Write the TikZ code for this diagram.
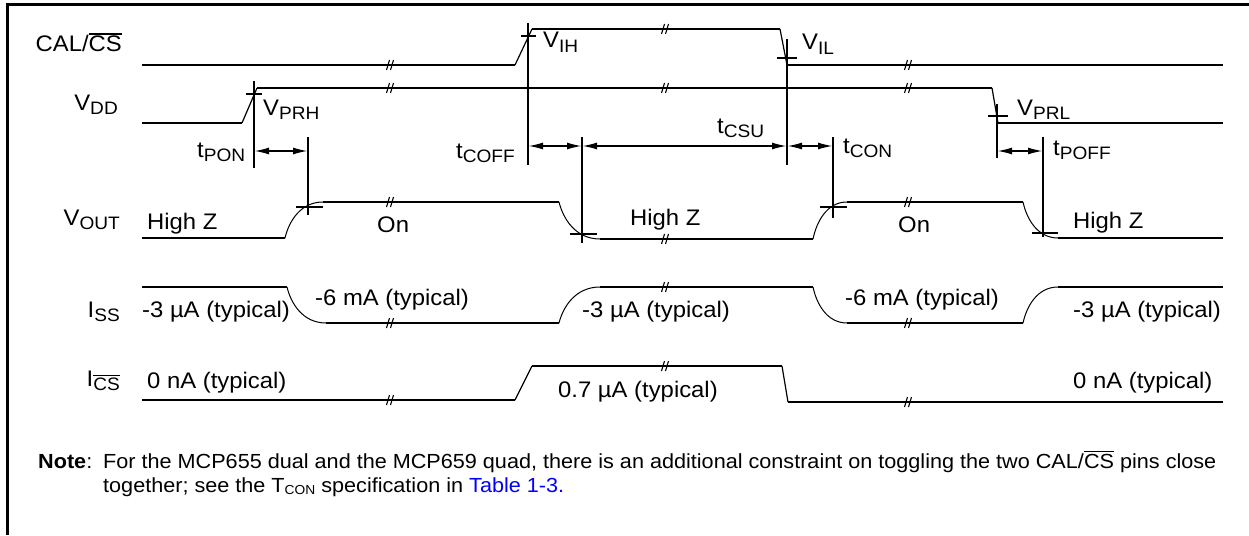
\documentclass[tikz,border=0pt]{standalone}
\usepackage{fontspec}
\setmainfont{Liberation Sans}[FakeStretch=1.06]
\usetikzlibrary{arrows.meta}
\definecolor{linkblue}{RGB}{0,0,255}
\newcommand\lsub[1]{\raisebox{-4.5pt}{\fontsize{18}{18}\selectfont #1}}
\newcommand\myov[1]{\setbox0=\hbox{#1}\rlap{\rule[\dimexpr\ht0+1.6pt\relax]{\wd0}{1.4pt}}\box0\relax}
\newcommand\lblfont{\fontsize{22.5}{26}\selectfont}
\newcommand\notefont{\fontsize{20.4}{24}\selectfont}
\newcommand\sigcurve[4]{\draw[edge] (#1,#2) .. controls ({#1+0.1*(#3-#1)},{#2+0.45*(#4-#2)}) and ({#1+0.4*(#3-#1)},#4) .. (#3,#4);}
\begin{document}
\begin{tikzpicture}[x=1pt,y=-1pt,
  every node/.style={font=\lblfont, inner sep=0pt},
  frame/.style={line width=3pt},
  sig/.style={line width=2.6pt},
  ramp/.style={line width=1.2pt},
  edge/.style={line width=1pt},
  tk/.style={line width=1.8pt},
  dim/.style={line width=1.8pt, {Latex[length=15pt,width=7pt]}-{Latex[length=15pt,width=7pt]}},
  brk/.pic={\draw[line width=1.1pt] (-3.5,5) -- (-0.5,-5) (0.5,5) -- (3.5,-5);}]
\useasboundingbox (0,0) rectangle (1249,535);
% frame
\draw[frame] (7,535) -- (7,5) -- (1249,5);
% ---- CAL/CS
\draw[sig] (142,65) -- (515,65);
\draw[ramp] (515,65) -- (532,29);
\draw[sig] (532,29) -- (780,29);
\draw[ramp] (780,29) -- (787,65);
\draw[sig] (787,65) -- (1223,65);
% ---- VDD
\draw[sig] (142,123) -- (242,123);
\draw[ramp] (242,123) -- (257,88);
\draw[sig] (257,88) -- (992,88);
\draw[ramp] (992,88) -- (998,123);
\draw[sig] (998,123) -- (1223,123);
% ---- VOUT
\draw[sig] (142,238) -- (285,238);
\sigcurve{285}{238}{323}{202}
\draw[sig] (323,202) -- (559,202);
\sigcurve{559}{202}{600}{239}
\draw[sig] (600,239) -- (813,239);
\sigcurve{813}{239}{847}{202}
\draw[sig] (847,202) -- (1023,202);
\sigcurve{1023}{202}{1058}{238}
\draw[sig] (1058,238) -- (1223,238);
% ---- ISS
\draw[sig] (142,287) -- (287,287);
\sigcurve{287}{287}{326}{323}
\draw[sig] (326,323) -- (559,323);
\sigcurve{559}{323}{600}{287}
\draw[sig] (600,287) -- (813,287);
\sigcurve{813}{287}{847}{323}
\draw[sig] (847,323) -- (1023,323);
\sigcurve{1023}{323}{1058}{287}
\draw[sig] (1058,287) -- (1223,287);
% ---- ICS
\draw[sig] (142,400) -- (515,400);
\draw[ramp] (515,400) -- (532,366);
\draw[sig] (532,366) -- (782,366);
\draw[ramp] (782,366) -- (788,402);
\draw[sig] (788,402) -- (1223,402);
% ---- breaks
\foreach \bx/\by in {390/65,665/29,908/65, 390/88,665/88,908/88, 390/202,665/239,908/202, 390/323,665/287,908/323, 390/400,665/366,908/402}
  \pic at (\bx,\by) {brk};
% ---- vertical marker lines
\draw[tk] (254,81) -- (254,168);
\draw[tk] (528,23) -- (528,165);
\draw[tk] (787,39) -- (787,165);
\draw[tk] (997,104) -- (997,158);
\draw[tk] (308,137) -- (308,215);
\draw[tk] (582,137) -- (582,243);
\draw[tk] (833,137) -- (833,218);
\draw[tk] (1043,137) -- (1043,237);
% ---- crossing ticks
\draw[tk] (246,94) -- (262,94);
\draw[tk] (521,36) -- (536,36);
\draw[tk] (777,58) -- (797,58);
\draw[tk] (988,116) -- (1008,116);
\draw[tk] (296,207) -- (323,207);
\draw[tk] (570,234) -- (597,234);
\draw[tk] (820,207) -- (847,207);
\draw[tk] (1032,233) -- (1058,233);
% ---- dimension arrows
\coordinate (p1) at (254,151); \coordinate (p2) at (308,151);
\coordinate (c1) at (528,146); \coordinate (c2) at (582,146);
\coordinate (c3) at (787,146); \coordinate (c4) at (833,146);
\coordinate (q1) at (997,151); \coordinate (q2) at (1043,151);
\draw[dim] (p1) -- (p2);
\draw[dim] (c1) -- (c2);
\draw[dim] (c2) -- (c3);
\draw[dim] (c3) -- (c4);
\draw[dim] (q1) -- (q2);
% ---- signal names
\node[anchor=base east] (lcal) at (122,52) {CAL/\myov{CS}};
\node[anchor=base east] (lvdd) at (118,110) {V\lsub{DD}};
\node[anchor=base east] (lvout) at (120,225) {V\lsub{OUT}};
\node[anchor=base east] (liss) at (120,317) {I\lsub{SS}};
\node[anchor=base east] (lics) at (120,386) {I\lsub{\myov{CS}}};
% ---- threshold / timing labels
\node[anchor=base west] (vprh) at (263,115) {V\lsub{PRH}};
\node[anchor=base west] (vih) at (543,48) {V\lsub{IH}};
\node[anchor=base west] (vil) at (802,50) {V\lsub{IL}};
\node[anchor=base west] (vprl) at (1017,115) {V\lsub{PRL}};
\node[anchor=base west] (tpon) at (197,157) {t\lsub{PON}};
\node[anchor=base west] (tcoff) at (456,158) {t\lsub{COFF}};
\node[anchor=base west] (tcsu) at (717,133) {t\lsub{CSU}};
\node[anchor=base west] (tcon) at (843,153) {t\lsub{CON}};
\node[anchor=base west] (tpoff) at (1053,155) {t\lsub{POFF}};
% ---- state labels
\node[anchor=base west] (hz1) at (147,229) {High Z};
\node[anchor=base west] (on1) at (377,232) {On};
\node[anchor=base west] (hz2) at (630,225) {High Z};
\node[anchor=base west] (on2) at (898,232) {On};
\node[anchor=base west] (hz3) at (1073,228) {High Z};
\node[anchor=base west] (is1) at (142,317) {-3 µA (typical)};
\node[anchor=base west] (is2) at (315,305) {-6 mA (typical)};
\node[anchor=base west] (is3) at (582,317) {-3 µA (typical)};
\node[anchor=base west] (is4) at (845,305) {-6 mA (typical)};
\node[anchor=base west] (is5) at (1073,317) {-3 µA (typical)};
\node[anchor=base west] (ic1) at (147,388) {0 nA (typical)};
\node[anchor=base west] (ic2) at (558,397) {0.7 µA (typical)};
\node[anchor=base west] (ic3) at (1073,388) {0 nA (typical)};
% ---- note
\node[anchor=base west, font=\notefont] (note) at (38,468) {\textbf{Note}:};
\node[anchor=base west, font=\notefont] (nl1) at (103,468) {For the MCP655 dual and the MCP659 quad, there is an additional constraint on toggling the two CAL/\myov{CS} pins close};
\node[anchor=base west, font=\notefont] (nl2) at (103,492) {together; see the T\raisebox{-2.5pt}{\fontsize{13}{13}\selectfont CON} specification in \textcolor{linkblue}{Table 1-3.}};
\end{tikzpicture}
\end{document}
